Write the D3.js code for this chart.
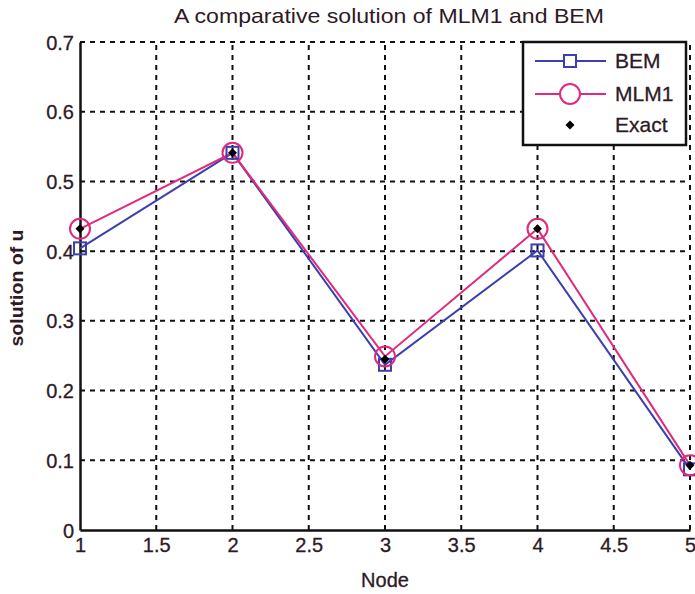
<!DOCTYPE html>
<html>
<head>
<meta charset="utf-8">
<script src="https://cdn.jsdelivr.net/npm/d3@7"></script>
<style>
  html, body { margin: 0; padding: 0; background: #fff; }
  svg { display: block; font-family: "Liberation Sans", Arial, sans-serif; }
</style>
</head>
<body>
<svg id="chart" width="695" height="594"></svg>
<script>
// Node positions and solution values
const nodes = [1, 2, 3, 4, 5];
const bem = [0.404, 0.541, 0.237, 0.401, 0.087];
const mlm1 = [0.432, 0.541, 0.249, 0.432, 0.093];
const exact = [0.432, 0.541, 0.245, 0.432, 0.093];
const xTicks = [1, 1.5, 2, 2.5, 3, 3.5, 4, 4.5, 5];
const yTicks = [0, 0.1, 0.2, 0.3, 0.4, 0.5, 0.6, 0.7];

const svg = d3.select("#chart");
const margin = { left: 80, right: 5, top: 42, bottom: 64 };
const W = 695, H = 594;
const x = d3.scaleLinear().domain([1, 5]).range([margin.left, W - margin.right]);
const y = d3.scaleLinear().domain([0, 0.7]).range([H - margin.bottom, margin.top]);
const ink = "#2e1a26";
const font = "'Liberation Sans', Arial, sans-serif";

// dashed grid
const grid = svg.append("g");
grid.selectAll("line.vx").data(xTicks.slice(1, -1)).join("line")
  .attr("x1", d => x(d)).attr("x2", d => x(d))
  .attr("y1", y(0)).attr("y2", y(0.7))
  .attr("stroke", "#111").attr("stroke-width", 2).attr("stroke-dasharray", "5,5");
grid.selectAll("line.hy").data(yTicks.slice(1, -1)).join("line")
  .attr("x1", x(1)).attr("x2", x(5))
  .attr("y1", d => y(d)).attr("y2", d => y(d))
  .attr("stroke", "#111").attr("stroke-width", 2).attr("stroke-dasharray", "5,5");
// top and right borders (dashed like the grid)
grid.append("line").attr("x1", x(1)).attr("x2", x(5)).attr("y1", y(0.7)).attr("y2", y(0.7))
  .attr("stroke", "#111").attr("stroke-width", 2).attr("stroke-dasharray", "5,5");
grid.append("line").attr("x1", x(5)).attr("x2", x(5)).attr("y1", y(0)).attr("y2", y(0.7))
  .attr("stroke", "#111").attr("stroke-width", 2).attr("stroke-dasharray", "5,5");

// axes
const xAxis = svg.append("g").attr("transform", `translate(0,${y(0)})`)
  .call(d3.axisBottom(x).tickValues(xTicks).tickSize(0).tickPadding(8).tickFormat(d3.format("")));
const yAxis = svg.append("g").attr("transform", `translate(${x(1)},0)`)
  .call(d3.axisLeft(y).tickValues(yTicks).tickSize(0).tickPadding(6).tickFormat(d => d === 0 ? "0" : d3.format(".1f")(d)));
[xAxis, yAxis].forEach(a => {
  a.select(".domain").attr("stroke", "#111").attr("stroke-width", 2.5);
  a.selectAll("text").attr("fill", ink).attr("font-size", 20).attr("font-family", font)
    .attr("stroke", ink).attr("stroke-width", 0.3);
});
yAxis.selectAll("text").attr("dy", "0.35em");

// series lines
const series = [
  { name: "BEM", values: bem, color: "#3b3fb0" },
  { name: "MLM1", values: mlm1, color: "#e02a7c" },
];
const line = d3.line().x((d, i) => x(nodes[i])).y(d => y(d));
series.forEach(s => {
  svg.append("path").datum(s.values).attr("d", line)
    .attr("fill", "none").attr("stroke", s.color).attr("stroke-width", 2);
});
// markers
svg.selectAll("rect.bem").data(bem).join("rect")
  .attr("x", (d, i) => x(nodes[i]) - 6).attr("y", d => y(d) - 6)
  .attr("width", 12).attr("height", 12)
  .attr("fill", "none").attr("stroke", "#3b3fb0").attr("stroke-width", 2);
svg.selectAll("circle.mlm").data(mlm1).join("circle")
  .attr("cx", (d, i) => x(nodes[i])).attr("cy", d => y(d)).attr("r", 10)
  .attr("fill", "none").attr("stroke", "#e02a7c").attr("stroke-width", 2);
const diamond = d3.symbol().type(d3.symbolSquare).size(40);
svg.selectAll("path.exact").data(exact).join("path")
  .attr("transform", (d, i) => `translate(${x(nodes[i])},${y(d)}) rotate(45)`)
  .attr("d", diamond).attr("fill", "#000");

// legend
const lg = svg.append("g");
lg.append("rect").attr("x", 523).attr("y", 42).attr("width", 163).attr("height", 103)
  .attr("fill", "#fff").attr("stroke", "#111").attr("stroke-width", 2.5);
const legendItems = [
  { name: "BEM", color: "#3b3fb0", marker: "square", ly: 61 },
  { name: "MLM1", color: "#e02a7c", marker: "circle", ly: 94 },
  { name: "Exact", color: "#000", marker: "diamond", ly: 125 },
];
legendItems.forEach(it => {
  if (it.marker !== "diamond") {
    lg.append("line").attr("x1", 535).attr("x2", 606).attr("y1", it.ly).attr("y2", it.ly)
      .attr("stroke", it.color).attr("stroke-width", 2);
  }
  if (it.marker === "square") {
    lg.append("rect").attr("x", 564).attr("y", it.ly - 6).attr("width", 12).attr("height", 12)
      .attr("fill", "#fff").attr("stroke", it.color).attr("stroke-width", 2);
  } else if (it.marker === "circle") {
    lg.append("circle").attr("cx", 570).attr("cy", it.ly).attr("r", 10)
      .attr("fill", "#fff").attr("stroke", it.color).attr("stroke-width", 2);
  } else {
    lg.append("path").attr("transform", `translate(570,${it.ly}) rotate(45)`).attr("d", diamond).attr("fill", "#000");
  }
  lg.append("text").attr("x", 615).attr("y", it.ly).attr("dy", "0.35em")
    .attr("font-size", 21).attr("fill", ink).attr("font-family", font)
    .attr("stroke", ink).attr("stroke-width", 0.3)
    .text(it.name);
});

// title and axis labels
svg.append("text").attr("x", 389).attr("y", 23).attr("text-anchor", "middle")
  .attr("font-size", 21).attr("fill", ink).attr("font-family", font)
  .attr("textLength", 430).attr("lengthAdjust", "spacingAndGlyphs")
  .text("A comparative solution of MLM1 and BEM");
svg.append("text").attr("x", 385).attr("y", 587).attr("text-anchor", "middle")
  .attr("font-size", 20).attr("fill", ink).attr("font-family", font)
  .attr("stroke", ink).attr("stroke-width", 0.3)
  .text("Node");
svg.append("text").attr("transform", "translate(23,288) rotate(-90)").attr("text-anchor", "middle")
  .attr("font-size", 19).attr("font-weight", "bold").attr("fill", ink).attr("font-family", font)
  .attr("textLength", 117).attr("lengthAdjust", "spacingAndGlyphs")
  .text("solution of u");
</script>
</body>
</html>
